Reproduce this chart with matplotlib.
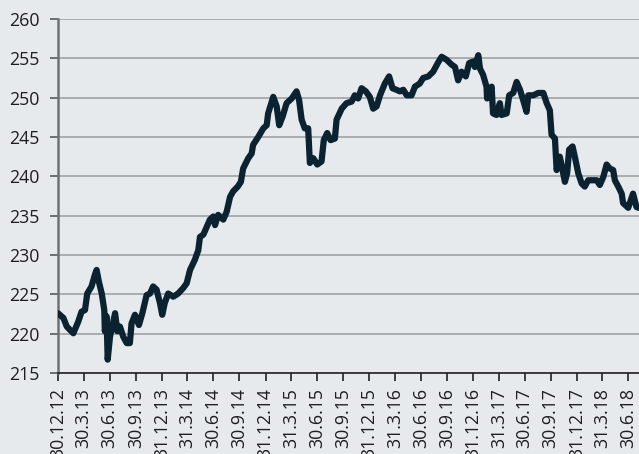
import matplotlib
matplotlib.use("Agg")
import matplotlib.pyplot as plt
import pandas as pd

dates = [
    "2012-12-30", "2013-01-18", "2013-01-30", "2013-02-10", "2013-02-22", "2013-03-11",
    "2013-03-23", "2013-04-04", "2013-04-12", "2013-04-27", "2013-05-09", "2013-05-15",
    "2013-05-23", "2013-06-02", "2013-06-11", "2013-06-13", "2013-06-19", "2013-06-23",
    "2013-07-01", "2013-07-09", "2013-07-19", "2013-07-27", "2013-08-05", "2013-08-17",
    "2013-08-29", "2013-09-09", "2013-09-15", "2013-09-27", "2013-10-11", "2013-10-23",
    "2013-11-07", "2013-11-19", "2013-11-30", "2013-12-12", "2013-12-24", "2014-01-01",
    "2014-01-10", "2014-01-22", "2014-02-09", "2014-02-26", "2014-03-16", "2014-03-28",
    "2014-04-09", "2014-04-26", "2014-05-08", "2014-05-14", "2014-05-26", "2014-06-07",
    "2014-06-18", "2014-06-30", "2014-07-06", "2014-07-17", "2014-08-04", "2014-08-16",
    "2014-08-28", "2014-09-08", "2014-09-24", "2014-10-05", "2014-10-13", "2014-10-31",
    "2014-11-12", "2014-11-17", "2014-12-05", "2014-12-23", "2015-01-04", "2015-01-09",
    "2015-01-27", "2015-02-08", "2015-02-17", "2015-03-01", "2015-03-15", "2015-04-02",
    "2015-04-19", "2015-04-28", "2015-05-07", "2015-05-18", "2015-05-30", "2015-06-05",
    "2015-06-17", "2015-07-01", "2015-07-16", "2015-07-24", "2015-08-05", "2015-08-17",
    "2015-09-01", "2015-09-07", "2015-09-25", "2015-10-12", "2015-10-30", "2015-11-10",
    "2015-11-22", "2015-12-04", "2015-12-19", "2016-01-02", "2016-01-14", "2016-01-26",
    "2016-02-07", "2016-02-24", "2016-03-10", "2016-03-22", "2016-04-05", "2016-04-17",
    "2016-04-29", "2016-05-11", "2016-05-28", "2016-06-09", "2016-06-26", "2016-07-08",
    "2016-07-26", "2016-08-12", "2016-08-30", "2016-09-11", "2016-09-29", "2016-10-16",
    "2016-10-28", "2016-11-08", "2016-11-20", "2016-12-05", "2016-12-17", "2016-12-31",
    "2017-01-06", "2017-01-18", "2017-01-24", "2017-02-04", "2017-02-16", "2017-02-18",
    "2017-03-06", "2017-03-11", "2017-03-23", "2017-04-04", "2017-04-10", "2017-04-28",
    "2017-05-07", "2017-05-21", "2017-06-02", "2017-06-14", "2017-06-25", "2017-07-07",
    "2017-07-13", "2017-07-31", "2017-08-17", "2017-09-04", "2017-09-16", "2017-09-27",
    "2017-10-03", "2017-10-15", "2017-10-21", "2017-11-01", "2017-11-07", "2017-11-19",
    "2017-11-27", "2017-12-04", "2017-12-16", "2017-12-24", "2018-01-05", "2018-01-17",
    "2018-01-28", "2018-02-09", "2018-02-27", "2018-03-11", "2018-03-22", "2018-04-03",
    "2018-04-15", "2018-04-26", "2018-05-08", "2018-05-14", "2018-05-26", "2018-06-07",
    "2018-06-12", "2018-06-30", "2018-07-17", "2018-07-29", "2018-08-06",
]
values = [
    222.6, 222.0, 220.9, 220.5, 220.05, 221.5,
    222.8, 223.0, 225.1, 226.0, 227.5, 228.1,
    226.6, 225.1, 223.0, 220.3, 222.2, 216.7,
    219.6, 220.9, 222.6, 220.3, 220.9, 219.6,
    218.8, 218.8, 221.3, 222.4, 221.1, 222.6,
    224.9, 225.1, 226.0, 225.6, 223.9, 222.4,
    223.9, 225.1, 224.7, 225.1, 225.8, 226.4,
    228.1, 229.4, 230.6, 232.3, 232.6, 233.6,
    234.5, 234.9, 233.8, 235.1, 234.5, 235.5,
    237.4, 238.1, 238.7, 239.3, 241.0, 242.3,
    242.9, 244.0, 245.0, 246.1, 246.5, 248.0,
    250.1, 248.9, 246.5, 247.6, 249.3, 249.9,
    250.8, 249.7, 247.2, 246.1, 246.1, 241.7,
    242.3, 241.5, 241.9, 244.6, 245.5, 244.6,
    244.8, 247.2, 248.6, 249.3, 249.5, 250.3,
    249.9, 251.2, 250.8, 250.1, 248.6, 248.9,
    250.3, 251.8, 252.7, 251.2, 251.0, 250.8,
    251.0, 250.3, 250.3, 251.4, 251.8, 252.5,
    252.7, 253.3, 254.5, 255.2, 254.8, 254.2,
    253.9, 252.2, 253.3, 252.7, 254.4, 254.6,
    253.9, 255.4, 253.7, 252.9, 251.4, 249.9,
    251.4, 248.0, 247.8, 249.3, 247.8, 248.0,
    250.3, 250.6, 252.0, 251.0, 249.7, 248.2,
    250.3, 250.3, 250.6, 250.6, 249.3, 248.4,
    245.3, 244.8, 240.8, 242.5, 241.5, 239.3,
    240.4, 243.4, 243.8, 242.5, 240.4, 239.1,
    238.7, 239.5, 239.5, 239.5, 238.9, 239.9,
    241.5, 241.0, 240.8, 239.5, 238.7, 237.8,
    236.6, 236.0, 237.8, 236.1, 236.0,
]

tick_dates = [
    "2012-12-30", "2013-03-30", "2013-06-30", "2013-09-30", "2013-12-31",
    "2014-03-31", "2014-06-30", "2014-09-30", "2014-12-31", "2015-03-31",
    "2015-06-30", "2015-09-30", "2015-12-31", "2016-03-31", "2016-06-30",
    "2016-09-30", "2016-12-31", "2017-03-31", "2017-06-30", "2017-09-30",
    "2017-12-31", "2018-03-31", "2018-06-30",
]
tick_labels = [
    "30.12.12", "30.3.13", "30.6.13", "30.9.13", "31.12.13",
    "31.3.14", "30.6.14", "30.9.14", "31.12.14", "31.3.15",
    "30.6.15", "30.9.15", "31.12.15", "31.3.16", "30.6.16",
    "30.9.16", "31.12.16", "31.3.17", "30.6.17", "30.9.17",
    "31.12.17", "31.3.18", "30.6.18",
]
y_ticks = [215, 220, 225, 230, 235, 240, 245, 250, 255, 260]

bg = "#e6eaed"
plt.rcParams["font.family"] = ["Open Sans", "DejaVu Sans"]

x = pd.to_datetime(dates)
fig = plt.figure(figsize=(6.39, 4.54), dpi=100, facecolor=bg)
ax = fig.add_axes([58 / 639, 81 / 454, 1 - 58 / 639, 354 / 454])
ax.set_facecolor(bg)

ax.plot(x, values, color="#0b2230", lw=4.5, solid_joinstyle="round",
        solid_capstyle="round", zorder=3)

ax.set_ylim(215, 260)
ax.set_yticks(y_ticks)
ax.set_yticklabels([str(v) for v in y_ticks], fontsize=12.8, color="#1e1e1e")
ax.grid(axis="y", color="#a9adb0", lw=1.4, zorder=1)

ax.set_xlim(pd.Timestamp("2012-12-30"), pd.Timestamp("2018-08-07"))
ax.set_xticks(pd.to_datetime(tick_dates))
ax.set_xticklabels(tick_labels, rotation=90, fontsize=12.8, color="#1e1e1e",
                   va="top", ha="center")

for s in ["top", "right"]:
    ax.spines[s].set_visible(False)
ax.spines["left"].set_color("#6e7275")
ax.spines["left"].set_linewidth(1.8)
ax.spines["bottom"].set_color("#222222")
ax.spines["bottom"].set_linewidth(1.2)
ax.tick_params(axis="y", length=6, width=1.2, color="#55595c", pad=7.5)
ax.tick_params(axis="x", length=6, width=1.2, color="#222222", pad=5)

fig.savefig("out.png", dpi=100, facecolor=bg)
